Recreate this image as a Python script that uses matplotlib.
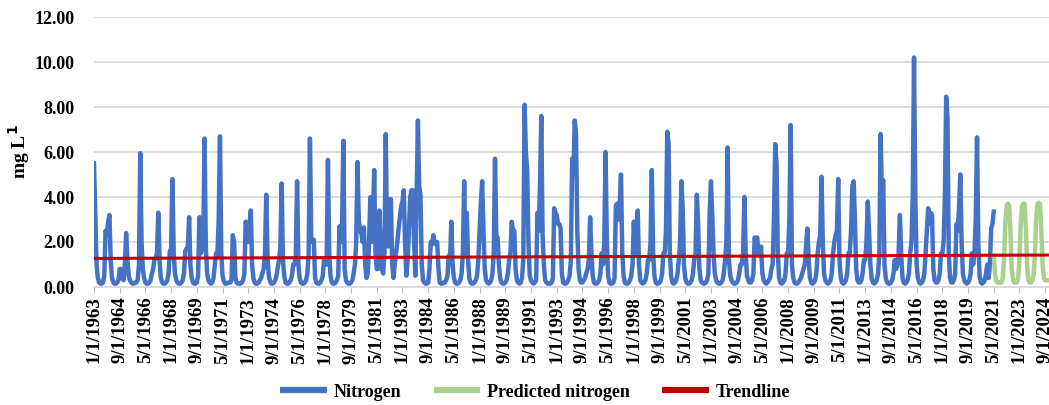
import matplotlib
matplotlib.use("Agg")
import matplotlib.pyplot as plt
import numpy as np

plt.rcParams['font.family'] = ['Liberation Serif', 'DejaVu Serif']
plt.rcParams['font.weight'] = 'bold'

# Nitrogen, mg/L, one row per year (Jan..Dec), 1963 - May 2021
nitrogen_by_year = [
    [5.5, 3.2, 1.0, 0.4, 0.2, 0.15, 0.15, 0.2, 0.5, 2.5, 2.3, 2.9],      # 1963
    [3.2, 1.2, 0.4, 0.2, 0.15, 0.15, 0.2, 0.3, 0.8, 0.8, 0.4, 0.3],      # 1964
    [1.0, 2.4, 1.2, 0.5, 0.3, 0.2, 0.15, 0.15, 0.2, 0.2, 0.3, 1.0],      # 1965
    [5.95, 2.0, 0.8, 0.4, 0.2, 0.15, 0.15, 0.2, 0.3, 0.6, 0.8, 1.2],     # 1966
    [1.3, 1.5, 3.3, 1.2, 0.4, 0.2, 0.15, 0.15, 0.2, 0.3, 0.6, 1.6],      # 1967
    [1.7, 4.8, 1.5, 0.6, 0.3, 0.2, 0.15, 0.15, 0.2, 0.3, 0.6, 1.6],      # 1968
    [1.7, 1.8, 3.1, 1.0, 0.4, 0.2, 0.15, 0.15, 0.2, 0.5, 3.1, 1.5],      # 1969
    [1.6, 2.0, 6.6, 1.8, 0.6, 0.3, 0.2, 0.15, 0.2, 0.4, 1.0, 1.5],       # 1970
    [1.4, 3.0, 6.7, 1.5, 0.5, 0.25, 0.15, 0.15, 0.2, 0.2, 0.2, 0.3],     # 1971
    [2.3, 2.0, 0.4, 0.2, 0.15, 0.15, 0.15, 0.2, 0.3, 0.6, 2.9, 2.6],     # 1972
    [2.0, 2.8, 3.4, 1.0, 0.4, 0.2, 0.15, 0.15, 0.2, 0.3, 0.4, 0.6],      # 1973
    [0.8, 1.5, 4.1, 1.3, 0.5, 0.25, 0.15, 0.15, 0.2, 0.3, 0.5, 0.9],     # 1974
    [1.2, 1.8, 4.6, 1.2, 0.5, 0.2, 0.15, 0.15, 0.2, 0.3, 0.5, 1.0],      # 1975
    [1.0, 1.4, 4.7, 1.0, 0.4, 0.2, 0.15, 0.15, 0.2, 0.3, 0.6, 1.5],      # 1976
    [6.6, 2.2, 2.0, 2.1, 0.4, 0.2, 0.15, 0.15, 0.2, 0.3, 0.5, 1.2],      # 1977
    [1.2, 1.0, 5.65, 1.5, 0.5, 0.2, 0.15, 0.15, 0.2, 0.3, 0.5, 2.7],     # 1978
    [2.0, 2.8, 6.5, 0.8, 0.3, 0.2, 0.15, 0.15, 0.2, 0.3, 0.6, 1.0],      # 1979
    [2.0, 5.55, 3.0, 2.5, 2.4, 2.0, 2.65, 1.0, 0.4, 0.6, 2.0, 4.0],      # 1980
    [2.0, 3.0, 5.2, 1.5, 0.8, 0.8, 3.4, 2.0, 0.8, 0.6, 1.5, 6.8],        # 1981
    [2.0, 1.8, 3.9, 3.9, 1.0, 0.4, 1.0, 1.5, 2.0, 2.6, 3.1, 3.6],        # 1982
    [3.8, 4.3, 2.0, 0.5, 1.2, 2.5, 4.0, 4.3, 4.3, 2.0, 0.5, 4.0],        # 1983
    [7.4, 4.5, 4.1, 1.0, 0.3, 0.2, 0.15, 0.15, 0.2, 0.8, 2.0, 1.9],      # 1984
    [2.3, 2.0, 1.9, 2.0, 0.8, 0.2, 0.15, 0.15, 0.2, 0.2, 0.3, 0.5],      # 1985
    [1.4, 1.2, 2.9, 1.0, 0.4, 0.2, 0.15, 0.15, 0.2, 0.3, 0.6, 1.5],      # 1986
    [4.7, 1.5, 3.3, 1.2, 0.4, 0.2, 0.15, 0.15, 0.2, 0.3, 0.5, 1.2],      # 1987
    [2.5, 3.8, 4.7, 2.5, 0.8, 0.3, 0.2, 0.15, 0.2, 0.3, 0.6, 1.5],       # 1988
    [5.7, 2.2, 2.2, 1.0, 0.4, 0.2, 0.15, 0.15, 0.2, 0.3, 0.6, 1.2],      # 1989
    [1.5, 2.9, 2.5, 2.5, 0.8, 0.3, 0.2, 0.15, 0.2, 0.4, 1.2, 8.1],       # 1990
    [6.0, 5.2, 2.0, 0.5, 0.3, 0.2, 0.15, 0.2, 0.3, 3.3, 2.5, 4.5],       # 1991
    [7.6, 2.3, 1.0, 0.3, 0.2, 0.15, 0.15, 0.15, 0.2, 0.4, 3.5, 3.3],     # 1992
    [3.2, 2.8, 2.8, 2.6, 0.6, 0.2, 0.15, 0.15, 0.2, 0.3, 0.5, 1.2],      # 1993
    [5.7, 5.0, 7.4, 6.8, 2.5, 0.8, 0.3, 0.2, 0.2, 0.3, 0.4, 0.6],        # 1994
    [0.8, 1.2, 3.1, 1.5, 0.5, 0.2, 0.15, 0.15, 0.2, 0.3, 0.6, 1.5],      # 1995
    [1.0, 2.0, 6.0, 2.0, 0.5, 0.2, 0.15, 0.15, 0.2, 0.4, 3.6, 3.7],      # 1996
    [3.0, 3.6, 5.0, 1.5, 0.5, 0.2, 0.15, 0.15, 0.2, 0.3, 0.5, 1.0],      # 1997
    [2.9, 1.5, 2.5, 3.4, 1.0, 0.3, 0.2, 0.15, 0.2, 0.3, 0.6, 1.2],       # 1998
    [1.2, 2.0, 5.2, 1.5, 0.5, 0.2, 0.15, 0.15, 0.2, 0.3, 0.6, 1.5],      # 1999
    [1.5, 2.5, 6.9, 6.4, 1.5, 0.5, 0.2, 0.15, 0.2, 0.3, 0.6, 1.2],       # 2000
    [2.0, 4.7, 3.5, 1.0, 0.4, 0.2, 0.15, 0.15, 0.2, 0.3, 0.6, 1.2],      # 2001
    [1.5, 4.1, 2.8, 0.8, 0.3, 0.2, 0.15, 0.15, 0.2, 0.3, 0.6, 3.3],      # 2002
    [4.7, 3.2, 1.5, 0.6, 0.3, 0.2, 0.15, 0.15, 0.2, 0.3, 0.6, 1.2],      # 2003
    [2.0, 6.2, 1.2, 0.5, 0.3, 0.2, 0.15, 0.15, 0.2, 0.3, 0.6, 1.0],      # 2004
    [1.0, 1.5, 4.0, 1.5, 0.5, 0.3, 0.2, 0.2, 0.3, 0.6, 2.2, 2.0],        # 2005
    [2.2, 1.4, 1.5, 1.8, 0.6, 0.3, 0.2, 0.15, 0.2, 0.3, 0.4, 0.8],       # 2006
    [1.0, 3.0, 6.35, 5.5, 1.5, 0.4, 0.2, 0.15, 0.2, 0.3, 0.6, 1.5],      # 2007
    [1.5, 3.0, 7.2, 1.0, 0.4, 0.2, 0.15, 0.15, 0.2, 0.3, 0.4, 0.6],      # 2008
    [0.8, 1.0, 1.8, 2.6, 1.2, 0.4, 0.2, 0.15, 0.2, 0.3, 0.6, 1.5],       # 2009
    [2.0, 2.3, 4.9, 2.0, 0.6, 0.3, 0.2, 0.15, 0.2, 0.3, 0.6, 1.5],       # 2010
    [2.0, 2.3, 2.5, 4.8, 1.2, 0.4, 0.2, 0.15, 0.2, 0.3, 0.6, 1.5],       # 2011
    [1.5, 2.5, 4.5, 4.7, 3.0, 0.8, 0.3, 0.2, 0.2, 0.3, 0.6, 1.2],        # 2012
    [1.2, 2.0, 3.8, 2.5, 1.0, 0.4, 0.2, 0.15, 0.2, 0.3, 0.6, 1.5],       # 2013
    [6.8, 4.0, 4.75, 1.0, 0.4, 0.2, 0.15, 0.15, 0.2, 0.3, 0.6, 1.2],     # 2014
    [0.8, 1.0, 1.5, 3.2, 1.5, 0.4, 0.2, 0.15, 0.2, 0.3, 0.6, 1.5],       # 2015
    [2.0, 4.0, 10.2, 4.0, 1.0, 0.4, 0.2, 0.15, 0.2, 0.3, 0.6, 1.5],      # 2016
    [2.5, 3.5, 2.8, 3.3, 3.2, 0.8, 0.3, 0.2, 0.2, 0.3, 0.6, 1.5],        # 2017
    [1.5, 2.0, 4.0, 8.46, 7.5, 1.5, 0.4, 0.2, 0.2, 0.3, 0.6, 2.8],       # 2018
    [2.5, 3.5, 5.0, 2.0, 0.6, 0.3, 0.2, 0.15, 0.2, 0.3, 0.6, 1.5],       # 2019
    [1.0, 1.5, 3.0, 6.65, 2.0, 0.5, 0.2, 0.15, 0.2, 0.3, 0.6, 1.0],      # 2020
    [0.4, 1.0, 2.6, 2.8, 3.35],                                          # 2021 (Jan-May)
]

# predicted nitrogen, monthly from May 2021
predicted = [1.4, 0.6, 0.25, 0.2, 0.2, 0.2, 0.2, 0.4, 1.2, 2.8, 3.6, 3.7,
             3.6, 2.5, 0.8, 0.3, 0.2, 0.2, 0.2, 0.4, 1.2, 2.8, 3.6, 3.7,
             3.7, 2.6, 0.9, 0.3, 0.2, 0.2, 0.3, 0.5, 1.4, 3.0, 3.7, 3.75,
             3.7, 2.6, 1.0, 0.4, 0.3, 0.3, 0.3]

trend_start = 1.27
trend_end = 1.42

tick_labels = ["1/1/1963", "9/1/1964", "5/1/1966", "1/1/1968", "9/1/1969", "5/1/1971",
               "1/1/1973", "9/1/1974", "5/1/1976", "1/1/1978", "9/1/1979", "5/1/1981",
               "1/1/1983", "9/1/1984", "5/1/1986", "1/1/1988", "9/1/1989", "5/1/1991",
               "1/1/1993", "9/1/1994", "5/1/1996", "1/1/1998", "9/1/1999", "5/1/2001",
               "1/1/2003", "9/1/2004", "5/1/2006", "1/1/2008", "9/1/2009", "5/1/2011",
               "1/1/2013", "9/1/2014", "5/1/2016", "1/1/2018", "9/1/2019", "5/1/2021",
               "1/1/2023", "9/1/2024"]

nitrogen = [v for year in nitrogen_by_year for v in year]
x_n = np.arange(len(nitrogen))
x_p = np.arange(len(nitrogen) - 1, len(nitrogen) - 1 + len(predicted))
x_end = x_p[-1]

fig = plt.figure(figsize=(10.49, 4.05), dpi=100)
ax = fig.add_axes([94 / 1049, 118 / 405, 1 - 94 / 1049, 270 / 405])

ax.plot(x_n, nitrogen, color='#4472C4', lw=3.2, solid_joinstyle='round', label='Nitrogen', zorder=3)
ax.plot(x_p, predicted, color='#A9D18E', lw=3.2, solid_joinstyle='round', label='Predicted nitrogen', zorder=3)
ax.plot([0, x_end], [trend_start, trend_end], color='#C00000', lw=2.2, label='Trendline', zorder=4)

ax.set_xlim(0, 743)
ax.set_ylim(0, 12)
ax.set_yticks(np.arange(0, 13, 2))
ax.set_yticklabels([f"{v:.2f}" for v in np.arange(0, 13, 2)], fontsize=13, fontweight='bold')
ax.set_xticks(np.arange(len(tick_labels)) * 20)
ax.set_xticklabels(tick_labels, rotation=90, fontsize=13.5, fontweight='bold')

ax.grid(axis='y', color='#D9D9D9', lw=1.3)
ax.set_axisbelow(True)
for s in ['top', 'right', 'left']:
    ax.spines[s].set_visible(False)
ax.spines['bottom'].set_color('#D9D9D9')
ax.spines['bottom'].set_linewidth(1.3)
ax.tick_params(axis='y', length=0, pad=14)
ax.tick_params(axis='x', length=4, color='#BFBFBF', pad=3)

ax.set_ylabel("mg L$^{1}$", fontsize=14, fontweight='bold')
ax.yaxis.set_label_coords(-62 / 955, 0.5)

leg = fig.legend(loc='center', bbox_to_anchor=(0.51, 0.032), ncol=3, frameon=False,
                 fontsize=13, handlelength=2.6, columnspacing=1.8, handletextpad=0.35)
for line in leg.get_lines():
    line.set_linewidth(4.5)
    line.set_solid_capstyle('butt')

plt.savefig("out.png", dpi=100)
plt.close()
